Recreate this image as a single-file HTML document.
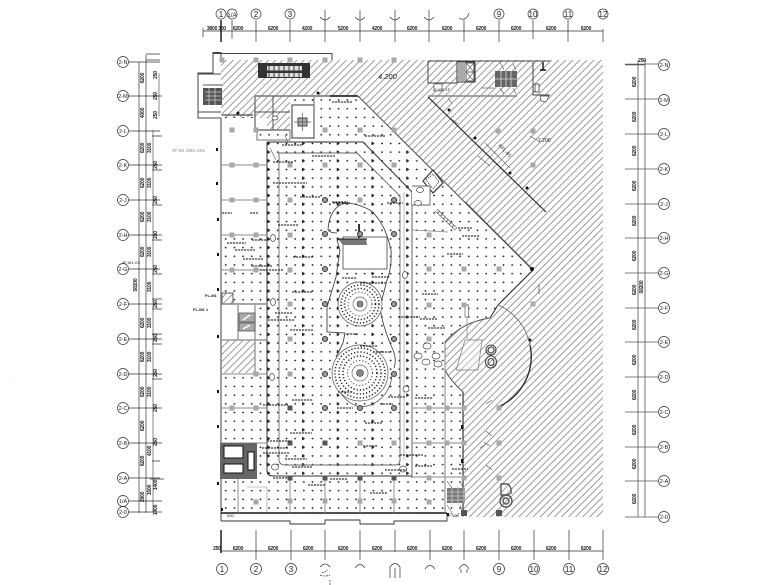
<!DOCTYPE html>
<html><head><meta charset="utf-8"><style>
html,body{margin:0;padding:0;background:#fff}
svg{display:block}
text{font-family:"Liberation Sans",sans-serif;fill:#222}
.d{font-size:5px;font-weight:bold;text-anchor:middle;letter-spacing:-.2px}
.c{font-size:8px;text-anchor:middle}
.s{font-size:5.5px;text-anchor:middle}
</style></head><body>
<svg width="780" height="585" viewBox="0 0 780 585" xmlns="http://www.w3.org/2000/svg">
<defs>
<pattern id="h" width="5" height="5" patternUnits="userSpaceOnUse" patternTransform="rotate(-45)"><line x1="0" y1="2.5" x2="5" y2="2.5" stroke="#707070" stroke-width=".7"/></pattern>
<pattern id="dots" x="221.4" y="61" width="8.68" height="8.68" patternUnits="userSpaceOnUse"><path d="M0 4.34h1.8M.9 3.44v1.8" stroke="#222" stroke-width=".85" transform="translate(3.44 0)"/></pattern>
<pattern id="mk" x="302" y="61" width="34.72" height="8.68" patternUnits="userSpaceOnUse"><rect x="0" y="2.8" width="1.6" height="3" fill="#222"/></pattern>
<clipPath id="bld"><path d="M221 117H255V130H290V96H358L533 270L498 305L490 318Q462 322 445 342V370Q450 380 463 392V513H447V521H221Z"/></clipPath>
</defs>
<rect width="780" height="585" fill="#fff"/>

<!-- hatch -->
<rect x="221" y="60" width="382" height="457" fill="url(#h)"/>
<path d="M221 117H255V130H290V96H358L533 270L498 305L490 318Q462 322 445 342V370Q450 380 463 392V513H447V524H221Z" fill="#fff"/>
<g clip-path="url(#bld)"><rect x="221" y="96" width="320" height="420" fill="url(#dots)"/><rect x="267" y="140" width="145" height="336" fill="url(#mk)"/></g>
<!-- white overlays -->
<rect x="222" y="118" width="45" height="116" fill="#fff"/>
<rect x="222" y="305" width="33" height="35" fill="#fff"/>
<rect x="222" y="340" width="33" height="33" fill="#fff"/>
<rect x="221.5" y="340" width="33.5" height="33" fill="url(#h)"/>
<rect x="222" y="293" width="11" height="11" fill="#fff"/><rect x="222" y="293" width="11" height="11" fill="url(#h)" stroke="#333" stroke-width=".8"/>
<rect x="257" y="130" width="33" height="10" fill="#fff" stroke="#555" stroke-width=".8"/>
<g fill="url(#dots)"><rect x="257" y="131" width="33" height="8"/></g>

<!-- outer walls -->
<path d="M221 60V52.5H213V73H198V118H221M213 53.5H332V60M198 74H221M198 112H221" fill="none" stroke="#444" stroke-width="1"/>
<path d="M221 118V513H447M255 96V130H290M255 96H358" fill="none" stroke="#777" stroke-width="1.4"/>
<path d="M290 96H358" fill="none" stroke="#888" stroke-width="1.6"/>
<path d="M330 96H358" stroke="#111" stroke-width="1.2"/>
<path d="M221 521H290V524H325V520H360V524H394V521H447V513M221 513V521" fill="none" stroke="#333" stroke-width=".9"/>
<path d="M221 513H447" stroke="#111" stroke-width="1.3"/>
<path d="M358 96L533 270" stroke="#555" stroke-width="1.1"/>
<path d="M465 202L533 270" stroke="#444" stroke-width="1.3"/>
<path d="M533 270L498 305L490 318" fill="none" stroke="#222" stroke-width="1"/>
<path d="M490 318Q462 322 445 342V513M445 370Q450 380 463 392V513" fill="none" stroke="#555" stroke-width="1"/>
<path d="M463 392V513" stroke="#444" stroke-width="1.3"/>
<path d="M498 305A55 55 0 0 1 530 345" fill="none" stroke="#666" stroke-width=".8"/>
<path d="M530 345A55 55 0 0 1 498 407" fill="none" stroke="#222" stroke-width="1.3"/>
<path d="M428 97L546 212" stroke="#222" stroke-width="1.1"/>
<path d="M255 112H290M273 96V130" stroke="#555" stroke-width="1"/>
<path d="M222 115H253" stroke="#222" stroke-width="1"/>

<!-- atrium walls -->
<g fill="none" stroke="#333">
<path d="M267 142V470Q267 476 273 476H412V192M267 142H363L412 192" stroke-width="1"/>
<path d="M279 153H357L400 196V460Q400 465 395 465H285Q279 465 279 459Z" stroke-width=".9" stroke="#666"/>
<path d="M412 205V478" stroke-width="1" stroke="#666"/>
<path d="M404 192V460" stroke-width=".6" stroke="#999"/>
</g>
<!-- bay lines -->
<g stroke="#888" stroke-width=".9" fill="none">
<path d="M222 165H266M222 200H266M222 235H266M222 270H266"/>
<path d="M222 374H266M222 408H266M222 443H266"/>
<path d="M412 408H463M412 443H463M412 477H463M445 342V513"/>
<path d="M238 478V513M290 478V513M325 478V513M360 478V513M394 478V513"/>
<path d="M247 487H267V512" stroke-width=".6"/>
<path d="M222 304H267" stroke-width="1.6"/>
<path d="M238 305V340M255 305V374M222 340H267" stroke-width="1.2"/>
</g>
<path d="M412 230L448 232M467 339V304" stroke="#888" stroke-width=".8" fill="none"/>
<rect x="465" y="305" width="3.5" height="12" fill="#fff" stroke="#777" stroke-width=".8"/>

<!-- elevators -->
<g stroke="#555" stroke-width=".8">
<rect x="239" y="313" width="16" height="9" fill="#aaa"/><rect x="239" y="323" width="16" height="8" fill="#aaa"/>
<path d="M243 320L250 315M243 329L250 325" stroke="#fff" stroke-width="1.4"/>
</g>

<!-- shaft rooms SW -->
<rect x="220" y="443" width="37" height="36" fill="#666"/>
<rect x="224" y="446" width="19" height="12" fill="#fff" stroke="#111"/>
<rect x="224" y="464" width="19" height="9" fill="#fff" stroke="#111"/>
<rect x="248" y="452" width="6" height="18" fill="#fff" stroke="#111"/>

<!-- stair NW -->
<rect x="203" y="88" width="19" height="17" fill="#555"/>
<path d="M205 92H221M205 96H221M205 100H221M209 88V105M215 88V105" stroke="#ccc" stroke-width=".8"/>
<rect x="203" y="84" width="19" height="2" fill="#aaa"/>

<!-- top machine -->
<rect x="258" y="63" width="52" height="15" fill="#333"/>
<rect x="267" y="66" width="35" height="4.5" fill="#ddd"/><rect x="267" y="73" width="35" height="4" fill="#ddd"/>
<path d="M269 66v4.5M274 66v4.5M279 66v4.5M284 66v4.5M289 66v4.5M294 66v4.5M299 66v4.5M269 73v4M274 73v4M279 73v4M284 73v4M289 73v4M294 73v4M299 73v4" stroke="#444" stroke-width="1"/>
<rect x="292" y="105" width="22" height="33" fill="#fff" stroke="#555" stroke-width="1.2"/>
<rect x="298" y="118" width="9" height="8" fill="#aaa" stroke="#222" stroke-width=".8"/>
<path d="M302.5 113V131M294 122H311" stroke="#555" stroke-width=".7"/>
<path d="M314 97V139" stroke="#666" stroke-width="1"/>

<!-- NE rooms -->
<path d="M428 61H550M428 61V83H457M428 96H517" fill="none" stroke="#444" stroke-width="1"/>
<path d="M428 96H517" stroke="#888" stroke-width="1.6"/>
<path d="M533 62V95H550" fill="none" stroke="#444" stroke-width="1"/>
<rect x="457" y="62" width="18" height="20" fill="#fff" stroke="#333"/>
<rect x="458" y="63" width="7" height="18" fill="#aaa"/>
<path d="M466 63H474V72H466ZM466 72H474V81H466Z" fill="#fff" stroke="#333" stroke-width=".8"/>
<path d="M466 63L474 72M474 63L466 72M466 72L474 81M474 72L466 81" stroke="#555" stroke-width=".6"/>
<rect x="495" y="71" width="22" height="16" fill="#666"/>
<path d="M495 79H517M506 71V87M501 71V87M511 71V87" stroke="#ddd" stroke-width=".8"/>
<path d="M482 88H494M500 62L504 70M513 64L516 70M500 88L504 94M513 88L516 94" stroke="#666" stroke-width=".7"/>
<path d="M543 62V70M540 70H546" stroke="#111" stroke-width="1.4"/>
<path d="M535 84H539V92H535Z" fill="#fff" stroke="#222" stroke-width=".7"/>
<path d="M540 96L549 96L546 102L541 101Z" fill="#fff" stroke="#444" stroke-width=".7"/>
<path d="M434 84H442V91H434Z" fill="#fff" stroke="#333" stroke-width=".6"/>

<!-- rotated box -->
<path d="M423 181L433 170L443 183L433 193Z" fill="#fff" stroke="#444" stroke-width="1.3"/>
<path d="M426 180L433 174L439 182L433 189Z" fill="none" stroke="#222" stroke-width=".7" stroke-dasharray="1.5 1"/>
<path d="M412 186H430V205H412" fill="#fff" stroke="#666" stroke-width=".9"/>
<path d="M436 210L456 229" stroke="#666" stroke-width="3.5"/><path d="M436 210L456 229" stroke="#fff" stroke-width="2" stroke-dasharray="3 1"/>

<!-- atrium free form -->
<path d="M328 230Q329 212 340 205Q350 200 370 210Q385 222 391 250Q392 268 387 280L380 307Q382 325 393 350Q397 360 394 368" fill="none" stroke="#444" stroke-width=".9"/>
<path d="M337 240L340 250L336 277L327 307V332L345 333L343 343L336 357" fill="none" stroke="#444" stroke-width=".9"/>
<path d="M328 230Q330 233 337 233" fill="none" stroke="#444" stroke-width=".8"/>
<rect x="343" y="237" width="44" height="32" fill="#fff" stroke="#444" stroke-width=".8"/>
<path d="M338 239H366L367 245H343Z" fill="#777"/><path d="M338 239H367" stroke="#111" stroke-width="1"/>
<path d="M359 224V238" stroke="#333" stroke-width="2"/>

<!-- round features -->
<g fill="none">
<circle cx="360" cy="304" r="22" fill="#fff" stroke="#555" stroke-width=".7"/>
<circle cx="360" cy="304" r="19" stroke="#222" stroke-width="1.5" stroke-dasharray="1.2 2"/>
<circle cx="360" cy="304" r="15.5" stroke="#222" stroke-width="1.5" stroke-dasharray="1.2 2"/>
<circle cx="360" cy="304" r="12" stroke="#444" stroke-width="1" stroke-dasharray="1.2 2"/>
<circle cx="360" cy="304" r="7" stroke="#666" stroke-width=".7"/>
<circle cx="360" cy="304" r="3" fill="#888" stroke="#333" stroke-width=".6"/>
<path d="M335 373A33 34 0 0 0 360 407A33 34 0 0 0 392 373" stroke="#444" stroke-width=".7"/>
<circle cx="360" cy="373" r="28" fill="#fff" stroke="#555" stroke-width=".7"/>
<circle cx="360" cy="373" r="25" stroke="#222" stroke-width="1.5" stroke-dasharray="1.2 2"/>
<circle cx="360" cy="373" r="21" stroke="#222" stroke-width="1.5" stroke-dasharray="1.2 2"/>
<circle cx="360" cy="373" r="17" stroke="#222" stroke-width="1.5" stroke-dasharray="1.2 2"/>
<circle cx="360" cy="373" r="12.5" stroke="#444" stroke-width="1" stroke-dasharray="1.2 2"/>
<circle cx="360" cy="373" r="8" stroke="#666" stroke-width=".7"/>
<circle cx="360" cy="373" r="3.5" fill="#888" stroke="#333" stroke-width=".6"/>
</g>

<!-- hatched circle room content -->
<path d="M465 340H482L478 370H456Z" fill="#fff" fill-opacity=".3" stroke="#777" stroke-width=".7"/>
<g fill="none" stroke="#444" stroke-width="1.1">
<ellipse cx="491" cy="350" rx="5" ry="5"/><ellipse cx="491" cy="362" rx="5.5" ry="6"/><ellipse cx="491" cy="350" rx="3" ry="3"/><ellipse cx="491" cy="362" rx="3" ry="3.5"/>
</g>
<g fill="none" stroke="#555" stroke-width="1.4">
<path d="M501 484H508Q512 488 511 493L507 495H501Z"/><circle cx="506" cy="501" r="6"/><circle cx="506" cy="501" r="3"/>
</g>
<path d="M539 285V294" stroke="#555" stroke-width=".8"/>

<!-- stair SE -->
<rect x="447" y="488" width="18" height="15" fill="#777"/>
<path d="M447 492H467M447 496H467M447 500H467M452 486V505M458 486V505M464 486V505" stroke="#ccc" stroke-width=".8"/>
<path d="M447 481L452 488M460 481L463 488M447 505L452 513M460 505L463 513" stroke="#777" stroke-width=".7"/>

<!-- gray squares -->
<path fill="#a8a8a8" d="M229.500 127.500h5v5h-5zM253.500 127.500h5v5h-5zM322.500 127.500h5v5h-5zM357.500 127.500h5v5h-5zM391.500 127.500h5v5h-5zM229.500 162.500h5v5h-5zM253.500 162.500h5v5h-5zM287.500 162.500h5v5h-5zM322.500 162.500h5v5h-5zM357.500 162.500h5v5h-5zM391.500 162.500h5v5h-5zM229.500 197.500h5v5h-5zM253.500 197.500h5v5h-5zM287.500 197.500h5v5h-5zM357.500 197.500h5v5h-5zM229.500 232.500h5v5h-5zM253.500 232.500h5v5h-5zM287.500 232.500h5v5h-5zM229.500 267.500h5v5h-5zM253.500 267.500h5v5h-5zM287.500 267.500h5v5h-5zM287.500 301.500h5v5h-5zM287.500 336.500h5v5h-5zM253.500 371.500h5v5h-5zM287.500 371.500h5v5h-5zM229.500 405.500h5v5h-5zM253.500 405.500h5v5h-5zM357.500 440.500h5v5h-5zM391.500 440.500h5v5h-5zM287.500 498.500h5v5h-5zM322.500 498.500h5v5h-5zM357.500 498.500h5v5h-5zM391.500 498.500h5v5h-5zM253.500 499.500h5v5h-5zM426.500 232.500h5v5h-5zM426.500 266.500h5v5h-5zM461.500 266.500h5v5h-5zM496.500 266.500h5v5h-5zM426.500 302.500h5v5h-5zM461.500 302.500h5v5h-5zM426.500 336.500h5v5h-5zM426.500 405.500h5v5h-5zM444.500 405.500h5v5h-5zM461.500 405.500h5v5h-5zM426.500 440.500h5v5h-5zM444.500 440.500h5v5h-5zM461.500 440.500h5v5h-5zM426.500 475.500h5v5h-5zM461.500 475.500h5v5h-5zM426.500 499.500h5v5h-5zM495.500 128.500h5v5h-5zM530.500 128.500h5v5h-5zM530.500 162.500h5v5h-5zM530.500 301.500h5v5h-5zM496.500 405.500h5v5h-5zM496.500 440.500h5v5h-5zM496.500 475.500h5v5h-5zM219.500 57.500h5v5h-5zM253.500 57.500h5v5h-5zM287.500 57.500h5v5h-5zM322.500 57.500h5v5h-5zM357.500 57.500h5v5h-5zM391.500 57.500h5v5h-5z"/>
<path fill="#555" d="M287.500 405.500h5v5h-5zM287.500 440.500h5v5h-5zM322.500 440.500h5v5h-5zM287.500 475.500h5v5h-5zM322.500 475.500h5v5h-5zM357.500 475.500h5v5h-5zM391.500 475.500h5v5h-5zM461 510h6v6h-6zM496 510h6v6h-6z"/>

<!-- round columns -->
<g fill="#999" stroke="#333" stroke-width=".9">
<circle cx="325" cy="200" r="2.6"/><circle cx="325" cy="234" r="2.6"/><circle cx="360" cy="234" r="2.6"/><circle cx="394" cy="234" r="2.6"/><circle cx="325" cy="269" r="2.6"/><circle cx="325" cy="304" r="2.6"/><circle cx="394" cy="304" r="2.6"/><circle cx="325" cy="339" r="2.6"/><circle cx="394" cy="339" r="2.6"/><circle cx="325" cy="374" r="2.6"/><circle cx="394" cy="374" r="2.6"/><circle cx="325" cy="408" r="2.6"/><circle cx="360" cy="408" r="2.6"/><circle cx="394" cy="408" r="2.6"/><circle cx="394" cy="200" r="2.6"/>
</g>

<!-- tree ellipses -->
<g fill="#fff" stroke="#444" stroke-width=".7">
<ellipse cx="427" cy="346" rx="4" ry="3"/><ellipse cx="418" cy="356" rx="4" ry="3"/><ellipse cx="426" cy="362" rx="4" ry="3"/><ellipse cx="436" cy="356" rx="4" ry="3"/><ellipse cx="438" cy="364" rx="4" ry="3"/>
<ellipse cx="273" cy="238" rx="2.5" ry="3.5"/><ellipse cx="273" cy="302" rx="2.5" ry="3.5"/><ellipse cx="405" cy="275" rx="2.5" ry="3.5"/><ellipse cx="418" cy="203" rx="3.5" ry="2.5"/><ellipse cx="420" cy="190" rx="3.5" ry="2.5"/><ellipse cx="272" cy="377" rx="2.5" ry="3.5"/><ellipse cx="275" cy="467" rx="3.5" ry="3"/><ellipse cx="403" cy="469" rx="3.5" ry="3"/><ellipse cx="406" cy="389" rx="3" ry="3"/><ellipse cx="275" cy="118" rx="3" ry="2"/>
</g>

<!-- annotation leaders -->
<path fill="none" stroke="#111" stroke-width="1" stroke-dasharray="2.2 .8" d="M332 102H352M365 136H385M307 142H327M282 145H302M312 156H335M273 162H293M273 183H307M300 197H320M387 203H403M333 203H350M278 225H299M227 243H246M252 240H270M235 250H255M243 259H263M252 266H272M260 270H283M293 257H313M292 292H312M275 313H293M268 320H295M290 330H313M342 278H357M372 277H390M360 283H387M347 334H358M360 346H378M373 352H390M398 317H420M332 202H348M447 254H463M422 294H438M420 319H437M428 328H445M458 228H472M462 236H480M292 400H313M263 405H288M337 408H353M380 404H393M388 397H405M338 392H353M365 423H382M290 433H312M267 441H290M262 448H288M263 453H290M285 459H307M292 467H312M363 446H378M273 478H288M308 485H325M330 479H348M370 493H387M385 470H407M400 455H423M415 398H433M415 466H432M452 469H468M222 213H232M250 213H258"/>
<g fill="none" stroke="#555" stroke-width=".6">
<path d="M285 135L288 143M270 148L276 160M448 98L452 104M450 118L458 124M485 143L510 168M478 156L490 166M530 136L540 142M486 431L492 436M484 442L490 446M486 465L492 470M480 448L486 444M486 404L492 400"/>
</g>
<g fill="#111">
<rect x="216" y="148" width="2" height="3"/><rect x="216" y="182" width="2" height="3"/><rect x="217" y="218" width="2" height="3"/><rect x="217" y="253" width="2" height="3"/><rect x="217" y="288" width="2" height="3"/><rect x="217" y="335" width="2" height="3"/><rect x="217" y="390" width="2" height="3"/><rect x="217" y="425" width="2" height="3"/><rect x="217" y="482" width="2" height="3"/><rect x="221" y="508" width="2" height="3"/>
<rect x="461" y="425" width="2.500" height="4"/><rect x="461" y="459" width="2.500" height="4"/><rect x="447" y="513" width="2" height="3"/>
<circle cx="238" cy="113" r="1.500"/><circle cx="318" cy="93" r="1.500"/><circle cx="449" cy="110" r="1.500"/><circle cx="475" cy="138" r="1.500"/><circle cx="510" cy="173" r="1.500"/><circle cx="527" cy="188" r="1.500"/><circle cx="530" cy="340" r="1.500"/><circle cx="532" cy="269" r="2"/>
</g>
<text x="378" y="79" font-style="italic" fill="#333" style="font-size:7.500px">4.200</text>
<text x="433" y="91" style="font-size:4px" fill="#555">-3.900 1F</text>
<text x="498" y="146" transform="rotate(45 498 146)" style="font-size:5px">KFL-01</text>
<text x="538" y="142" style="font-size:5px">7.200</text>
<text x="172" y="152" style="font-size:4.500px;fill:#888">3F M1 ZM1-G01</text>
<text x="205" y="297" style="font-size:4px;font-weight:bold">FL-M1</text>
<text x="193" y="311" style="font-size:4px;font-weight:bold">FL-M1 1</text>
<text x="122" y="264" style="font-size:4px">3F-M1-G2</text>
<text x="227" y="517" style="font-size:4px">500</text><text x="452" y="517" style="font-size:4px">500</text>

<!-- TOP axes -->
<g stroke="#333" stroke-width=".7" fill="none">
<path d="M203 31H603M203 28V37M603 29V42"/>
<path d="M221 20V42" stroke-width="1.400" stroke="#111"/>
<path d="M232 20V39M256 20V42M290 20V42M325 10V42M360 10V42M395 10V42M429 10V42M464 20V42M499 20V42M533 20V39M568 20V42"/>
<path d="M320 17Q325 23 330 17M355 17Q360 23 365 17M390 17Q395 23 400 17M424 17Q429 23 434 17M459 18Q466 22 469 13"/>
<circle cx="221" cy="14" r="5" fill="#fff"/><circle cx="232" cy="14" r="5" fill="#fff"/><circle cx="256" cy="14" r="5" fill="#fff"/><circle cx="290" cy="14" r="5" fill="#fff"/><circle cx="499" cy="14" r="5" fill="#fff"/><circle cx="533" cy="14" r="5" fill="#fff"/><circle cx="568" cy="14" r="5" fill="#fff"/><circle cx="603" cy="14" r="5" fill="#fff"/>
</g>
<g><text class="c" x="221" y="17">1</text><text class="c" x="232" y="17" style="font-size:6.500px">1/A</text><text class="c" x="256" y="17">2</text><text class="c" x="290" y="17">3</text><text class="c" x="499" y="17">9</text><text class="c" x="533" y="17">10</text><text class="c" x="568" y="17">11</text><text class="c" x="603" y="17">12</text></g>
<g>
<text class="d" x="212" y="30">3800</text><text class="d" x="222" y="30">300</text><text class="d" x="238" y="30">6200</text><text class="d" x="273" y="30">6200</text><text class="d" x="307" y="30">4200</text><text class="d" x="343" y="30">5200</text><text class="d" x="377" y="30">4200</text><text class="d" x="412" y="30">6200</text><text class="d" x="447" y="30">6200</text><text class="d" x="481" y="30">6200</text><text class="d" x="516" y="30">6200</text><text class="d" x="551" y="30">6200</text><text class="d" x="586" y="30">6200</text>
</g>

<!-- BOTTOM axes -->
<g stroke="#333" stroke-width=".7" fill="none">
<path d="M221 551H603"/>
<path d="M221 530V553" stroke-width="1.400" stroke="#111"/>
<path d="M256 530V560M291 530V560M325 530V560M360 530V560M395 530V552M430 530V560M464 530V560M499 530V560M534 530V560M569 530V560M603 530V560"/>
<path d="M320 567Q325 561 330 567M355 568Q360 561 365 568M390 578V567Q395 560 400 567V578M395 568V578M425 569Q430 562 435 569M459 569Q464 560 469 569M461 569V573M467 569V573"/>
<circle cx="222" cy="569" r="5.500" fill="#fff"/><circle cx="256" cy="569" r="5.500" fill="#fff"/><circle cx="291" cy="569" r="5.500" fill="#fff"/><circle cx="499" cy="569" r="5.500" fill="#fff"/><circle cx="534" cy="569" r="5.500" fill="#fff"/><circle cx="569" cy="569" r="5.500" fill="#fff"/><circle cx="603" cy="569" r="5.500" fill="#fff"/>
<path d="M322 573L328 570M320 575Q326 577 330 575M330 580V585" stroke-dasharray="2 1"/>
</g>
<text class="c" x="222" y="572">1</text><text class="c" x="256" y="572">2</text><text class="c" x="291" y="572">3</text><text class="c" x="499" y="572">9</text><text class="c" x="534" y="572">10</text><text class="c" x="569" y="572">11</text><text class="c" x="603" y="572">12</text>
<g>
<text class="d" x="217" y="550">250</text><text class="d" x="238" y="550">6200</text><text class="d" x="273" y="550">6200</text><text class="d" x="308" y="550">6200</text><text class="d" x="343" y="550">6200</text><text class="d" x="377" y="550">6200</text><text class="d" x="412" y="550">6200</text><text class="d" x="447" y="550">6200</text><text class="d" x="481" y="550">6200</text><text class="d" x="516" y="550">6200</text><text class="d" x="551" y="550">6200</text><text class="d" x="586" y="550">6200</text>
</g>

<!-- LEFT axes -->
<g stroke="#333" stroke-width=".7" fill="none">
<path d="M139 62V513M146 55V513"/><path d="M153 130V513M159 73V116" stroke="#888" stroke-width="1"/>
<path d="M129 62H160M129 96H162M129 131H160M129 165H162M129 200H160M129 235H162M129 269H160M129 304H162M129 339H162M129 374H162M129 408H162M129 443H162M129 478H160M129 501H162M129 512H162"/>
<path d="M146 54H160M146 60H160M152 136H162M152 170H162M152 205H162M152 240H162M152 274H162M152 299H162M152 309H162M152 334H162M152 344H162M152 379H162M152 461H160M150 479H164"/>
<g fill="#fff">
<circle cx="123" cy="62" r="5.500"/><circle cx="123" cy="96" r="5.500"/><circle cx="123" cy="131" r="5.500"/><circle cx="123" cy="165" r="5.500"/><circle cx="123" cy="200" r="5.500"/><circle cx="123" cy="235" r="5.500"/><circle cx="123" cy="269" r="5.500"/><circle cx="123" cy="304" r="5.500"/><circle cx="123" cy="339" r="5.500"/><circle cx="123" cy="374" r="5.500"/><circle cx="123" cy="408" r="5.500"/><circle cx="123" cy="443" r="5.500"/><circle cx="123" cy="478" r="5.500"/><circle cx="123" cy="501" r="5.500"/><circle cx="123" cy="512" r="5.500"/>
</g></g>
<g>
<text class="s" x="123" y="64">2-N</text><text class="s" x="123" y="98">2-M</text><text class="s" x="123" y="133">2-L</text><text class="s" x="123" y="167">2-K</text><text class="s" x="123" y="202">2-J</text><text class="s" x="123" y="237">2-H</text><text class="s" x="123" y="271">2-G</text><text class="s" x="123" y="306">2-F</text><text class="s" x="123" y="341">2-E</text><text class="s" x="123" y="376">2-D</text><text class="s" x="123" y="410">2-C</text><text class="s" x="123" y="445">2-B</text><text class="s" x="123" y="480">2-A</text><text class="s" x="123" y="503">1/A</text><text class="s" x="123" y="514">2-0</text>
</g>
<g>
<text class="d" transform="rotate(-90 144 78)" x="144" y="78">6200</text><text class="d" transform="rotate(-90 144 113)" x="144" y="113">4000</text><text class="d" transform="rotate(-90 144 148)" x="144" y="148">6200</text><text class="d" transform="rotate(-90 144 183)" x="144" y="183">6200</text><text class="d" transform="rotate(-90 144 217)" x="144" y="217">6200</text><text class="d" transform="rotate(-90 144 252)" x="144" y="252">6200</text><text class="d" transform="rotate(-90 137 285)" x="137" y="285">58200</text><text class="d" transform="rotate(-90 144 323)" x="144" y="323">6200</text><text class="d" transform="rotate(-90 144 357)" x="144" y="357">6200</text><text class="d" transform="rotate(-90 144 392)" x="144" y="392">6200</text><text class="d" transform="rotate(-90 144 426)" x="144" y="426">6200</text><text class="d" transform="rotate(-90 144 461)" x="144" y="461">6200</text><text class="d" transform="rotate(-90 144 497)" x="144" y="497">2900</text>
<text class="d" transform="rotate(-90 151 148)" x="151" y="148">3100</text><text class="d" transform="rotate(-90 151 183)" x="151" y="183">3100</text><text class="d" transform="rotate(-90 151 217)" x="151" y="217">3100</text><text class="d" transform="rotate(-90 151 252)" x="151" y="252">3100</text><text class="d" transform="rotate(-90 151 287)" x="151" y="287">3100</text><text class="d" transform="rotate(-90 151 323)" x="151" y="323">3100</text><text class="d" transform="rotate(-90 151 357)" x="151" y="357">3100</text><text class="d" transform="rotate(-90 151 392)" x="151" y="392">3100</text><text class="d" transform="rotate(-90 151 451)" x="151" y="451">4100</text><text class="d" transform="rotate(-90 151 490)" x="151" y="490">1500</text>
<text class="d" transform="rotate(-90 157 75)" x="157" y="75">250</text><text class="d" transform="rotate(-90 157 96)" x="157" y="96">250</text><text class="d" transform="rotate(-90 157 115)" x="157" y="115">250</text><text class="d" transform="rotate(-90 157 165)" x="157" y="165">250</text><text class="d" transform="rotate(-90 157 200)" x="157" y="200">250</text><text class="d" transform="rotate(-90 157 235)" x="157" y="235">250</text><text class="d" transform="rotate(-90 157 269)" x="157" y="269">250</text><text class="d" transform="rotate(-90 157 304)" x="157" y="304">250</text><text class="d" transform="rotate(-90 157 338)" x="157" y="338">250</text><text class="d" transform="rotate(-90 157 373)" x="157" y="373">250</text><text class="d" transform="rotate(-90 157 408)" x="157" y="408">250</text><text class="d" transform="rotate(-90 157 442)" x="157" y="442">250</text><text class="d" transform="rotate(-90 157 485)" x="157" y="485">1400</text><text class="d" transform="rotate(-90 157 510)" x="157" y="510">1400</text>
</g>

<!-- RIGHT axes -->
<g stroke="#555" stroke-width=".8" fill="none">
<path d="M638 60V517M645 60V517"/>
<path d="M625 64.500H645" stroke-width="1.500"/>
<path d="M645 64H658M625 99H658M625 134H658M625 169H658M625 204H658M625 238H658M625 273H658M625 308H658M625 342H658M625 377H658M625 412H658M625 447H658M625 481H658M625 517H658"/>
<g fill="#fff" stroke="#333" stroke-width=".7">
<circle cx="664" cy="65" r="5.500"/><circle cx="664" cy="100" r="5.500"/><circle cx="664" cy="134" r="5.500"/><circle cx="664" cy="169" r="5.500"/><circle cx="664" cy="204" r="5.500"/><circle cx="664" cy="238" r="5.500"/><circle cx="664" cy="273" r="5.500"/><circle cx="664" cy="308" r="5.500"/><circle cx="664" cy="342" r="5.500"/><circle cx="664" cy="377" r="5.500"/><circle cx="664" cy="412" r="5.500"/><circle cx="664" cy="447" r="5.500"/><circle cx="664" cy="481" r="5.500"/><circle cx="664" cy="517" r="5.500"/>
</g></g>
<g>
<text class="s" x="664" y="67">2-N</text><text class="s" x="664" y="102">2-M</text><text class="s" x="664" y="136">2-L</text><text class="s" x="664" y="171">2-K</text><text class="s" x="664" y="206">2-J</text><text class="s" x="664" y="240">2-H</text><text class="s" x="664" y="275">2-G</text><text class="s" x="664" y="310">2-F</text><text class="s" x="664" y="344">2-E</text><text class="s" x="664" y="379">2-D</text><text class="s" x="664" y="414">2-C</text><text class="s" x="664" y="449">2-B</text><text class="s" x="664" y="483">2-A</text><text class="s" x="664" y="519">2-0</text>
</g>
<g>
<text class="d" transform="rotate(-90 636 82)" x="636" y="82">6200</text><text class="d" transform="rotate(-90 636 117)" x="636" y="117">6200</text><text class="d" transform="rotate(-90 636 151)" x="636" y="151">6200</text><text class="d" transform="rotate(-90 636 186)" x="636" y="186">6200</text><text class="d" transform="rotate(-90 636 221)" x="636" y="221">6200</text><text class="d" transform="rotate(-90 636 256)" x="636" y="256">6200</text><text class="d" transform="rotate(-90 636 325)" x="636" y="325">6200</text><text class="d" transform="rotate(-90 636 360)" x="636" y="360">6200</text><text class="d" transform="rotate(-90 636 395)" x="636" y="395">6200</text><text class="d" transform="rotate(-90 636 430)" x="636" y="430">6200</text><text class="d" transform="rotate(-90 636 464)" x="636" y="464">6200</text><text class="d" transform="rotate(-90 636 499)" x="636" y="499">6200</text><text class="d" transform="rotate(-90 636 290)" x="636" y="290">6200</text><text class="d" transform="rotate(-90 643 287)" x="643" y="287">58200</text><text class="d" x="642" y="62">250</text>
</g>
<circle cx="10" cy="380" r=".4" fill="#bbb"/><circle cx="14" cy="384" r=".4" fill="#bbb"/>
</svg>
</body></html>
